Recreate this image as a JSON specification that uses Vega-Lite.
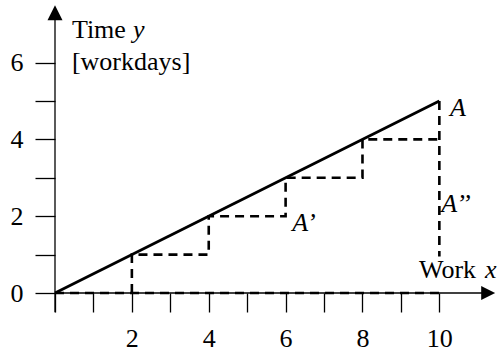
{
  "$schema": "https://vega.github.io/schema/vega-lite/v6.json",
  "width": 442,
  "height": 288,
  "autosize": "none",
  "padding": {"left": 55, "top": 5, "right": 0, "bottom": 58},
  "config": {
    "view": {"stroke": null},
    "axis": {
      "domain": false,
      "grid": false,
      "title": null,
      "tickColor": "black",
      "tickWidth": 1.3,
      "labelColor": "black",
      "labelFont": "Liberation Serif",
      "labelFontSize": 26
    },
    "style": {"guide-label": {"font": "Liberation Serif", "fontSize": 26, "fill": "black"}}
  },
  "datasets": {
    "axes": [
      {"x": 0, "y": -0.5, "x2": 0, "y2": 7.2},
      {"x": 0, "y": 0, "x2": 11.2, "y2": 0}
    ],
    "arrowUp": [{"x": 0, "y": 7.3}],
    "arrowRight": [{"x": 11.27, "y": 0}],
    "trend": [
      {"x": 0, "y": 0},
      {"x": 10, "y": 5}
    ],
    "steps": [
      {"seg": "base", "ord": 1, "x": 0, "y": 0},
      {"seg": "base", "ord": 2, "x": 10, "y": 0},
      {"seg": "stair", "ord": 1, "x": 2, "y": 0},
      {"seg": "stair", "ord": 2, "x": 2, "y": 1},
      {"seg": "stair", "ord": 3, "x": 4, "y": 1},
      {"seg": "stair", "ord": 4, "x": 4, "y": 2},
      {"seg": "stair", "ord": 5, "x": 6, "y": 2},
      {"seg": "stair", "ord": 6, "x": 6, "y": 3},
      {"seg": "stair", "ord": 7, "x": 8, "y": 3},
      {"seg": "stair", "ord": 8, "x": 8, "y": 4},
      {"seg": "stair", "ord": 9, "x": 10, "y": 4},
      {"seg": "drop", "ord": 1, "x": 10, "y": 5},
      {"seg": "drop", "ord": 2, "x": 10, "y": 0.95}
    ],
    "plainText": [
      {"x": 0.44, "y": 6.64, "label": "Time"},
      {"x": 0.44, "y": 5.81, "label": "[workdays]"},
      {"x": 9.47, "y": 0.39, "label": "Work"}
    ],
    "italicText": [
      {"x": 2.03, "y": 6.64, "label": "y"},
      {"x": 11.19, "y": 0.39, "label": "x"},
      {"x": 10.28, "y": 4.61, "label": "A"},
      {"x": 6.17, "y": 1.61, "label": "A’"},
      {"x": 10.05, "y": 2.11, "label": "A’’"}
    ]
  },
  "encoding": {
    "x": {
      "field": "x",
      "type": "quantitative",
      "scale": {"domain": [0, 11.5], "nice": false, "zero": false},
      "axis": {
        "values": [0, 1, 2, 3, 4, 5, 6, 7, 8, 9, 10],
        "tickSize": 19,
        "labelPadding": 13,
        "labelFont": "Liberation Serif",
        "labelFontSize": 26,
        "labelExpr": "datum.value > 0 && datum.value % 2 === 0 ? datum.label : ''"
      }
    },
    "y": {
      "field": "y",
      "type": "quantitative",
      "scale": {"domain": [0, 7.5], "nice": false, "zero": false},
      "axis": {
        "values": [0, 1, 2, 3, 4, 5, 6],
        "tickSize": 20,
        "labelPadding": 12,
        "labelFont": "Liberation Serif",
        "labelFontSize": 26,
        "labelExpr": "datum.value % 2 === 0 ? datum.label : ''"
      }
    }
  },
  "layer": [
    {
      "data": {"name": "axes"},
      "mark": {"type": "rule", "color": "black", "strokeWidth": 1.3},
      "encoding": {"x2": {"field": "x2"}, "y2": {"field": "y2"}}
    },
    {
      "data": {"name": "arrowUp"},
      "mark": {"type": "point", "shape": "M0,-1L1,1L-1,1Z", "size": 225, "filled": true, "color": "black", "opacity": 1, "strokeWidth": 0}
    },
    {
      "data": {"name": "arrowRight"},
      "mark": {"type": "point", "shape": "M1,0L-1,1L-1,-1Z", "size": 196, "filled": true, "color": "black", "opacity": 1, "strokeWidth": 0}
    },
    {
      "data": {"name": "steps"},
      "mark": {"type": "line", "color": "black", "strokeWidth": 2.6, "strokeDash": [9, 6], "strokeCap": "butt"},
      "encoding": {
        "detail": {"field": "seg", "type": "nominal"},
        "order": {"field": "ord", "type": "quantitative"}
      }
    },
    {
      "data": {"name": "trend"},
      "mark": {"type": "line", "color": "black", "strokeWidth": 2.8},
      "encoding": {}
    },
    {
      "data": {"name": "plainText"},
      "mark": {"type": "text", "font": "Liberation Serif", "fontSize": 26, "align": "left", "baseline": "alphabetic", "color": "black"},
      "encoding": {"text": {"field": "label"}}
    },
    {
      "data": {"name": "italicText"},
      "mark": {"type": "text", "font": "Liberation Serif", "fontSize": 26, "fontStyle": "italic", "align": "left", "baseline": "alphabetic", "color": "black"},
      "encoding": {"text": {"field": "label"}}
    }
  ]
}
